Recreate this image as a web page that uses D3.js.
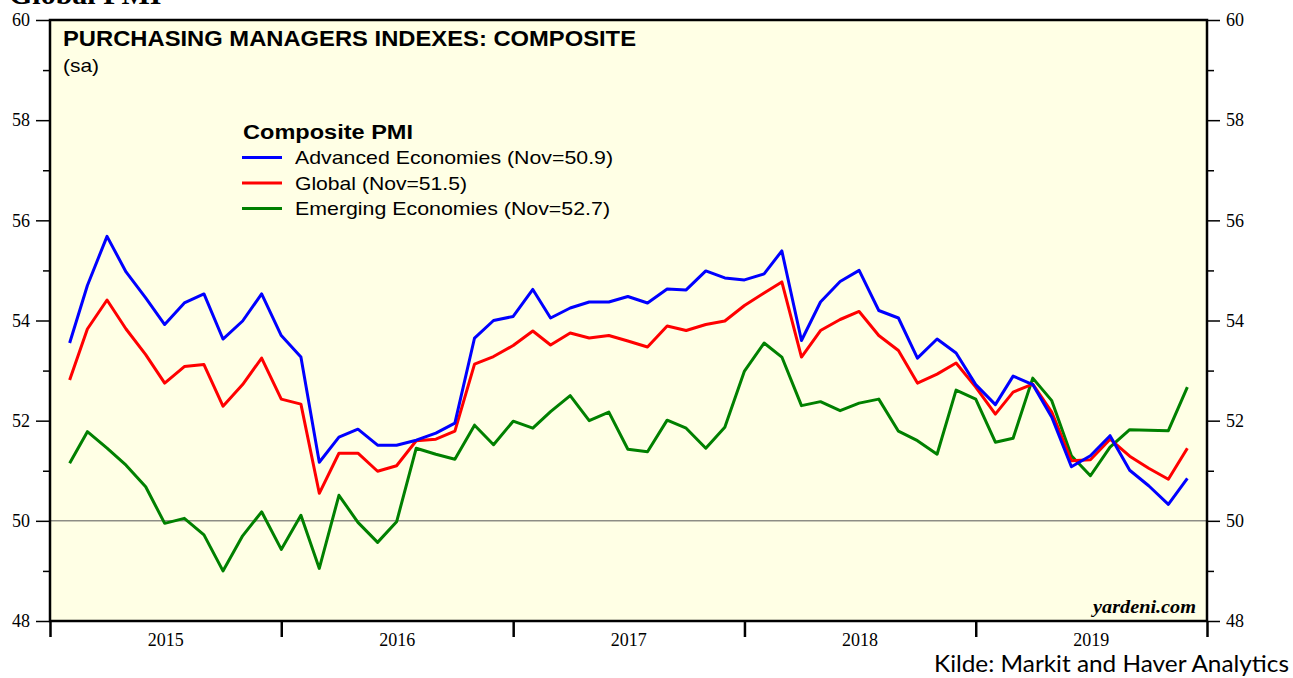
<!DOCTYPE html>
<html>
<head>
<meta charset="utf-8">
<script src="https://cdn.jsdelivr.net/npm/d3@7.9.0/dist/d3.min.js"></script>
<style>
  html, body { margin: 0; padding: 0; background: #fff; }
  svg { display: block; }
</style>
</head>
<body>
<svg id="chart" width="1293" height="678"></svg>
<script>
// monthly composite PMI, Jan 2015 .. Nov 2019
const advanced = [
  53.55, 54.70, 55.68, 54.97, 54.45, 53.92, 54.35, 54.53, 53.63, 53.99,
  54.53, 53.70, 53.27, 51.17, 51.67, 51.83, 51.51, 51.51, 51.61, 51.75,
  51.95, 53.65, 54.00, 54.08, 54.62, 54.05, 54.25, 54.37, 54.37, 54.48,
  54.35, 54.63, 54.61, 54.99, 54.85, 54.81, 54.93, 55.39, 53.60, 54.37,
  54.78, 55.00, 54.20, 54.05, 53.25, 53.63, 53.35, 52.72, 52.32, 52.89,
  52.72, 52.07, 51.08, 51.30, 51.70, 51.01, 50.70, 50.33, 50.85
];
const globalPmi = [
  52.81, 53.83, 54.41, 53.83, 53.32, 52.75, 53.08, 53.12, 52.29, 52.72,
  53.25, 52.43, 52.33, 50.55, 51.35, 51.35, 50.99, 51.10, 51.60, 51.63,
  51.79, 53.13, 53.28, 53.50, 53.79, 53.51, 53.75, 53.65, 53.70, 53.59,
  53.47, 53.89, 53.80, 53.92, 53.99, 54.30, 54.55, 54.77, 53.27, 53.80,
  54.02, 54.18, 53.70, 53.40, 52.75, 52.93, 53.15, 52.67, 52.13, 52.57,
  52.73, 52.17, 51.20, 51.22, 51.63, 51.29, 51.05, 50.83, 51.45
];
const emerging = [
  51.15, 51.78, 51.45, 51.11, 50.68, 49.95, 50.05, 49.72, 49.00, 49.70,
  50.18, 49.43, 50.11, 49.05, 50.51, 49.97, 49.57, 49.98, 51.45, 51.33,
  51.23, 51.91, 51.52, 51.99, 51.85, 52.18, 52.50, 52.00, 52.17, 51.43,
  51.38, 52.01, 51.85, 51.45, 51.87, 52.99, 53.55, 53.27, 52.30, 52.38,
  52.20, 52.35, 52.43, 51.79, 51.60, 51.33, 52.61, 52.43, 51.57, 51.65,
  52.85, 52.40, 51.30, 50.90, 51.47, 51.82, 51.81, 51.80, 52.67
];
const years = [2015, 2016, 2017, 2018, 2019];
const yTicks = [48, 50, 52, 54, 56, 58, 60];
const yMinorTicks = [49, 51, 53, 55, 57, 59];

const series = [
  { name: "Advanced Economies (Nov=50.9)", values: advanced, color: "#0000ff", width: 318 },
  { name: "Global (Nov=51.5)", values: globalPmi, color: "#ff0000", width: 172 },
  { name: "Emerging Economies (Nov=52.7)", values: emerging, color: "#008000", width: 315 }
];

// each month is plotted at the end of the month
const months = d3.range(advanced.length).map(i => new Date(Date.UTC(2015, i + 1, 1)));

const plotLeft = 50, plotRight = 1207, plotTop = 20, plotBottom = 621;
const svg = d3.select("#chart");

const x = d3.scaleUtc()
  .domain([new Date(Date.UTC(2015, 0, 1)), new Date(Date.UTC(2020, 0, 1))])
  .range([plotLeft, plotRight]);
const y = d3.scaleLinear().domain([48, 60]).range([plotBottom, plotTop]);

const serif = "'Liberation Serif', 'Times New Roman', serif";
const sans = "'Liberation Sans', Arial, sans-serif";

// cut-off page heading
svg.append("text")
  .attr("x", 9).attr("y", 4)
  .attr("font-family", serif).attr("font-weight", "bold").attr("font-size", 30)
  .text("Global PMI");

svg.append("rect")
  .attr("x", plotLeft).attr("y", plotTop)
  .attr("width", plotRight - plotLeft).attr("height", plotBottom - plotTop)
  .attr("fill", "#ffffe5");

// 50 line
svg.append("line")
  .attr("x1", plotLeft).attr("x2", plotRight)
  .attr("y1", y(50)).attr("y2", y(50))
  .attr("stroke", "#555").attr("stroke-width", 1);

// axes
function styleAxis(g) {
  g.select(".domain").remove();
  g.selectAll(".tick line").attr("stroke", "#000").attr("stroke-width", 1.5);
  g.selectAll(".tick text")
    .attr("font-family", serif).attr("font-size", 18).attr("fill", "#000");
}

svg.append("g").attr("transform", `translate(${plotLeft},0)`)
  .call(d3.axisLeft(y).tickValues(yTicks).tickSize(14).tickPadding(6).tickFormat(d3.format("d")))
  .call(styleAxis);
svg.append("g").attr("transform", `translate(${plotLeft},0)`)
  .call(d3.axisLeft(y).tickValues(yMinorTicks).tickSize(7).tickFormat(""))
  .call(styleAxis);
svg.append("g").attr("transform", `translate(${plotRight},0)`)
  .call(d3.axisRight(y).tickValues(yTicks).tickSize(13).tickPadding(6).tickFormat(d3.format("d")))
  .call(styleAxis);
svg.append("g").attr("transform", `translate(${plotRight},0)`)
  .call(d3.axisRight(y).tickValues(yMinorTicks).tickSize(7).tickFormat(""))
  .call(styleAxis);

const yearStarts = years.concat([years[years.length - 1] + 1]).map(yr => new Date(Date.UTC(yr, 0, 1)));
const xAxis = svg.append("g").attr("transform", `translate(0,${plotBottom})`)
  .call(d3.axisBottom(x).tickValues(yearStarts).tickSize(16).tickFormat(""))
  .call(styleAxis);
xAxis.selectAll(".tick line").attr("stroke-width", 2.5);

svg.append("g").selectAll("text")
  .data(years)
  .join("text")
  .attr("x", d => (x(new Date(Date.UTC(d, 0, 1))) + x(new Date(Date.UTC(d + 1, 0, 1)))) / 2)
  .attr("y", 646)
  .attr("text-anchor", "middle")
  .attr("font-family", serif).attr("font-size", 18)
  .text(d => d);

// lines
const line = d3.line()
  .x((d, i) => x(months[i]))
  .y(d => y(d));

svg.append("g").selectAll("path")
  .data(series.slice().reverse())
  .join("path")
  .attr("d", d => line(d.values))
  .attr("fill", "none")
  .attr("stroke", d => d.color)
  .attr("stroke-width", 3)
  .attr("stroke-linejoin", "round");

// frame
svg.append("rect")
  .attr("x", plotLeft).attr("y", plotTop)
  .attr("width", plotRight - plotLeft).attr("height", plotBottom - plotTop)
  .attr("fill", "none").attr("stroke", "#000").attr("stroke-width", 2.5);

// titles
svg.append("text")
  .attr("x", 63).attr("y", 46)
  .attr("font-family", sans).attr("font-weight", "bold").attr("font-size", 22.5)
  .attr("textLength", 573).attr("lengthAdjust", "spacingAndGlyphs")
  .text("PURCHASING MANAGERS INDEXES: COMPOSITE");
svg.append("text")
  .attr("x", 63).attr("y", 72)
  .attr("font-family", sans).attr("font-size", 18.5)
  .attr("textLength", 36).attr("lengthAdjust", "spacingAndGlyphs")
  .text("(sa)");

// legend
const legend = svg.append("g").attr("transform", "translate(242,0)");
legend.append("text")
  .attr("x", 1).attr("y", 139)
  .attr("font-family", sans).attr("font-weight", "bold").attr("font-size", 20)
  .attr("textLength", 170).attr("lengthAdjust", "spacingAndGlyphs")
  .text("Composite PMI");
const items = legend.selectAll("g.item")
  .data(series)
  .join("g")
  .attr("class", "item")
  .attr("transform", (d, i) => `translate(0,${157.5 + i * 25.5})`);
items.append("line")
  .attr("x1", 0).attr("x2", 40)
  .attr("stroke", d => d.color).attr("stroke-width", 3);
items.append("text")
  .attr("x", 53).attr("y", 6.5)
  .attr("font-family", sans).attr("font-size", 18.5)
  .attr("textLength", d => d.width).attr("lengthAdjust", "spacingAndGlyphs")
  .text(d => d.name);

svg.append("text")
  .attr("x", 1196).attr("y", 613)
  .attr("text-anchor", "end")
  .attr("font-family", serif).attr("font-style", "italic").attr("font-weight", "bold")
  .attr("font-size", 19)
  .attr("textLength", 103).attr("lengthAdjust", "spacingAndGlyphs")
  .text("yardeni.com");

svg.append("text")
  .attr("x", 1289).attr("y", 672)
  .attr("text-anchor", "end")
  .attr("font-family", "Lato, 'Open Sans', sans-serif").attr("font-size", 22.5)
  .attr("textLength", 355).attr("lengthAdjust", "spacingAndGlyphs")
  .text("Kilde: Markit and Haver Analytics");
</script>
</body>
</html>
